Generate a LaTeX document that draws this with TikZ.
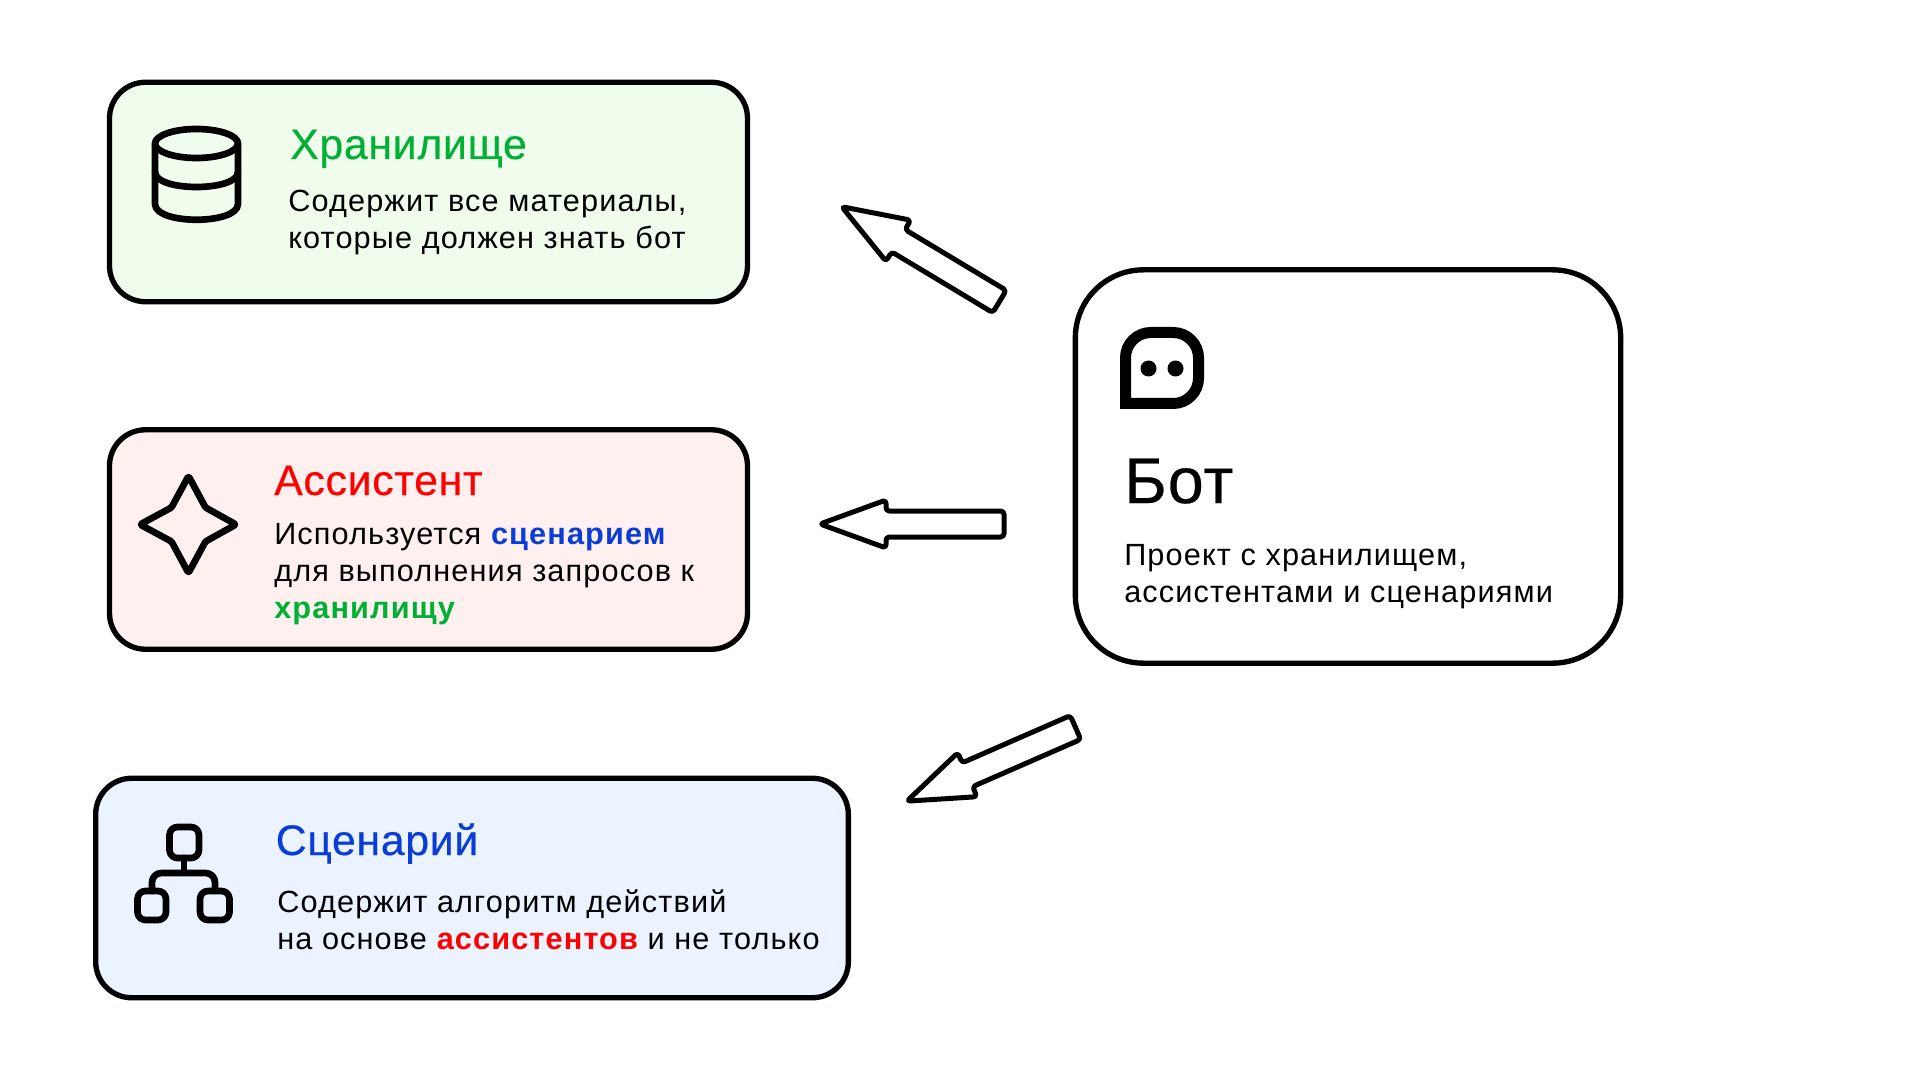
\documentclass[tikz,border=0pt]{standalone}
\usepackage{fontspec}
\setmainfont[LetterSpace=3.7]{Liberation Sans}
\newfontfamily\titlefont[LetterSpace=1.8,FakeBold=0.4]{Liberation Sans}
\usepackage{xcolor}
\definecolor{storegreen}{HTML}{00B034}
\definecolor{storefill}{HTML}{F0FDEC}
\definecolor{assistred}{HTML}{FF0000}
\definecolor{assistfill}{HTML}{FDF0EF}
\definecolor{flowblue}{HTML}{0A3DD8}
\definecolor{flowfill}{HTML}{EAF3FF}
\tikzset{
 card/.style={draw=black,line width=4pt,rounded corners=27pt,inner sep=0pt},
 titletext/.style={anchor=base west,inner sep=0pt,font=\titlefont\fontsize{32}{38}\selectfont},
 bodytext/.style={anchor=base west,inner sep=0pt,align=left,font=\fontsize{23}{27.5}\selectfont},
 iconline/.style={line width=5pt,line join=round,line cap=round},
 arrowline/.style={draw=black,fill=white,line width=3.75pt,rounded corners=2.5pt,line join=round}
}
\begin{document}
\begin{tikzpicture}[x=0.75pt,y=-0.75pt]
 \useasboundingbox (0,0) rectangle (1920,1080);

 \node[card,fill=storefill,minimum width=478.5pt,minimum height=164.6pt] (store) at (428.5,192) {};
 \node[card,fill=assistfill,minimum width=478.5pt,minimum height=164.6pt] (assist) at (428.5,539.5) {};
 \node[card,fill=flowfill,minimum width=564.5pt,minimum height=164.6pt] (flow) at (472,888) {};
 \node[card,fill=white,rounded corners=51pt,minimum width=409pt,minimum height=295pt] (bot) at (1348,466.5) {};

 % storage icon
 \draw[iconline] (196.5,143.5) ellipse (41.5 and 14.5);
 \draw[iconline] (155,143.5) -- (155,204) .. controls (155,225) and (238,225) .. (238,204) -- (238,143.5);
 \draw[iconline] (155,172) .. controls (155,192) and (238,192) .. (238,172);

 % assistant icon
 \draw[iconline,rounded corners=1pt] (188.5,476) -- (171.5,507.5) -- (140,524.5) -- (171.5,541.5) -- (188.5,573) -- (205.5,541.5) -- (236,524.5) -- (205.5,507.5) -- cycle;

 % scenario icon
 \draw[iconline,rounded corners=6pt] (169.5,827) rectangle (199,858);
 \draw[iconline,rounded corners=6pt] (137.5,891) rectangle (166,920);
 \draw[iconline,rounded corners=6pt] (200,891) rectangle (229.5,920);
 \draw[iconline] (184,858) -- (184,873);
 \draw[iconline,rounded corners=7pt] (152,891) -- (152,873) -- (215,873) -- (215,891);

 % bot icon
 \draw[line width=8.25pt,line join=miter] (1125.5,403.5) [rounded corners=19pt] -- (1125.5,332.5) -- (1198.5,332.5) -- (1198.5,403.5) [sharp corners] -- (1125.5,403.5) -- cycle;
 \fill (1148.5,368.5) circle (6pt);
 \fill (1175.5,368.5) circle (6pt);

 % arrows
 \foreach \x/\y/\a in {999.5/301.5/-31,1004/524/0,1075.5/727.5/23.6}
  \draw[arrowline,shift={(\x,\y)},rotate=\a] (0,-13) -- (-118,-13) -- (-118,-24) -- (-184,0) -- (-118,24) -- (-118,13) -- (0,13) -- cycle;

 \node[titletext,text=storegreen] (storetitle) at (290,159) {Хранилище};
 \node[bodytext] (storebody) at (288,248.6) {Содержит все материалы,\\которые должен знать бот};

 \node[titletext,text=assistred] (assisttitle) at (274,495) {Ассистент};
 \node[bodytext] (assistbody) at (274,618) {Используется {\bfseries\color{flowblue}сценарием}\\для выполнения запросов к\\{\bfseries\color{storegreen}хранилищу}};

 \node[titletext,text=flowblue] (flowtitle) at (275.5,855) {Сценарий};
 \node[bodytext] (flowbody) at (277,949) {Содержит алгоритм действий\\на основе {\bfseries\color{assistred}ассистентов} и не только};

 \node[titletext,font=\titlefont\fontsize{48.5}{58}\selectfont] (bottitle) at (1124,503) {Бот};
 \node[bodytext] (botbody) at (1124,602) {Проект с хранилищем,\\ассистентами и сценариями};
\end{tikzpicture}
\end{document}
